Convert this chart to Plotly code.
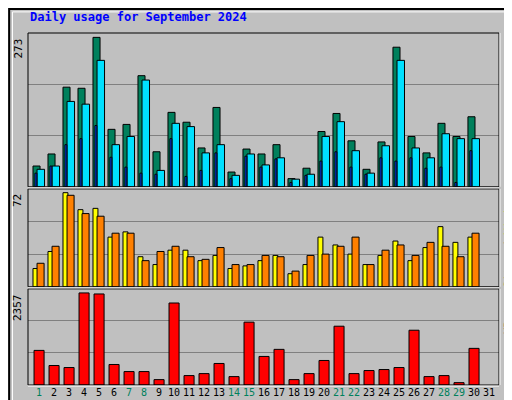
import plotly.graph_objects as go

# Daily values for September 2024
days = list(range(1, 31))
hits = [38, 60, 182, 180, 273, 105, 114, 203, 64, 136, 118, 71, 145, 27, 69,
        60, 77, 15, 34, 101, 134, 84, 32, 82, 255, 92, 62, 116, 92, 128]
files = [32, 38, 156, 151, 231, 77, 92, 195, 30, 116, 110, 62, 77, 21, 60,
         40, 53, 14, 23, 92, 119, 66, 25, 75, 231, 71, 53, 97, 88, 88]
pages = [25, 38, 77, 88, 112, 54, 36, 25, 23, 88, 19, 30, 62, 15, 56,
         36, 51, 8, 21, 47, 64, 36, 23, 53, 47, 53, 34, 36, 8, 66]
visits = [14, 27, 72, 59, 60, 38, 42, 23, 17, 28, 28, 20, 24, 14, 16,
          20, 24, 10, 17, 38, 32, 25, 17, 24, 35, 20, 30, 46, 34, 38]
sites = [18, 31, 70, 56, 54, 41, 41, 20, 27, 31, 23, 21, 30, 17, 17,
         24, 23, 12, 24, 25, 31, 38, 17, 28, 32, 24, 34, 31, 23, 41]
kbytes = [886, 499, 447, 2357, 2331, 525, 344, 344, 138, 2099, 241, 292, 551, 215, 1609,
          731, 912, 138, 292, 628, 1505, 292, 370, 396, 447, 1402, 215, 241, 60, 938]
weekend = [1, 7, 8, 14, 15, 21, 22, 28, 29]
all_days = list(range(1, 32))

max_hits, max_visits, max_kb = 273, 72, 2357

fig = go.Figure()
bar_line = dict(color='black', width=1)

def add_bar(y, color, offset, width, axis):
    fig.add_trace(go.Bar(x=days, y=y, marker=dict(color=color, line=bar_line),
                         offset=offset, width=width, xaxis='x', yaxis=axis))

add_bar(hits, '#00805C', 0.0, 0.47, 'y3')
add_bar(files, '#00E0FF', 0.27, 0.5, 'y3')
add_bar(pages, '#0040FF', 0.13, 0.13, 'y3')
add_bar(visits, '#FFFF00', 0.0, 0.33, 'y2')
add_bar(sites, '#FF8000', 0.27, 0.47, 'y2')
add_bar(kbytes, '#FF0000', 0.07, 0.67, 'y')

ticktext = [f"<span style='color:#00805C'>{d}</span>" if d in weekend else str(d) for d in all_days]

def yax(domain, top):
    return dict(domain=domain, range=[0, top], dtick=top / 3, showticklabels=False,
                gridcolor='#808080', gridwidth=1, zeroline=False, fixedrange=True,
                automargin=False)

fig.update_layout(
    width=512, height=400,
    margin=dict(l=20, r=21, t=25, b=23, autoexpand=False),
    paper_bgcolor='#C0C0C0', plot_bgcolor='#C0C0C0',
    showlegend=False, barmode='overlay',
    font=dict(family='DejaVu Sans Mono', size=11, color='black'),
    xaxis=dict(range=[0.667, 32.07], tickvals=[d + 0.4 for d in all_days], ticktext=ticktext,
               showgrid=False, ticks='', zeroline=False, tickangle=0, automargin=False,
               tickfont=dict(size=10)),
    yaxis=yax([0, 0.273], max_kb * 286 / 274),
    yaxis2=yax([0.279, 0.557], max_visits * 288 / 277),
    yaxis3=yax([0.563, 1], max_hits * 151.7 / 147.4),
)

# panel frames
for y0, y1 in [(0, 0.273), (0.279, 0.557), (0.563, 1)]:
    fig.add_shape(type='rect', xref='paper', yref='paper', x0=0, x1=1, y0=y0, y1=y1,
                  line=dict(color='black', width=1))
    fig.add_shape(type='line', xref='paper', yref='paper', x0=0, x1=1, y0=y0 - 0.003, y1=y0 - 0.003,
                  line=dict(color='white', width=1))
    fig.add_shape(type='line', xref='paper', yref='paper', x0=1.002, x1=1.002, y0=y0, y1=y1,
                  line=dict(color='white', width=1))

# outer bevel frame
fig.add_shape(type='rect', xref='paper', yref='paper', x0=-0.04, x1=1.042, y0=-0.063, y1=1.068,
              line=dict(color='black', width=2))
fig.add_shape(type='rect', xref='paper', yref='paper', x0=-0.033, x1=1.035, y0=-0.055, y1=1.06,
              line=dict(color='white', width=1))

fig.add_annotation(text='<b>Daily usage for September 2024</b>', xref='paper', yref='paper',
                   x=0, y=1.02, xanchor='left', yanchor='bottom', showarrow=False,
                   font=dict(color='#0000FF', size=12, family='DejaVu Sans Mono'))

for label, y in [(str(max_kb), 0.263), (str(max_visits), 0.547), (str(max_hits), 0.99)]:
    fig.add_annotation(text=label, textangle=-90, xref='paper', yref='paper', x=-0.003, y=y,
                       xanchor='right', yanchor='top', showarrow=False, font=dict(size=11))

side = [
    ("<span style='color:#00E0FF'>Pages</span> / <span style='color:#0040FF'>Files</span>"
     " / <span style='color:#00805C'>Hits</span>", 0.99),
    ("<span style='color:#FF8000'>Sites</span> / <span style='color:#FFFF00'>Visits</span>", 0.547),
    ("<span style='color:#FF0000'>KBytes</span>", 0.263),
]
for text, y in side:
    fig.add_annotation(text=text, textangle=-90, xref='paper', yref='paper', x=1.003, y=y,
                       xanchor='left', yanchor='top', showarrow=False, font=dict(size=11))

fig.write_html("out.html")
